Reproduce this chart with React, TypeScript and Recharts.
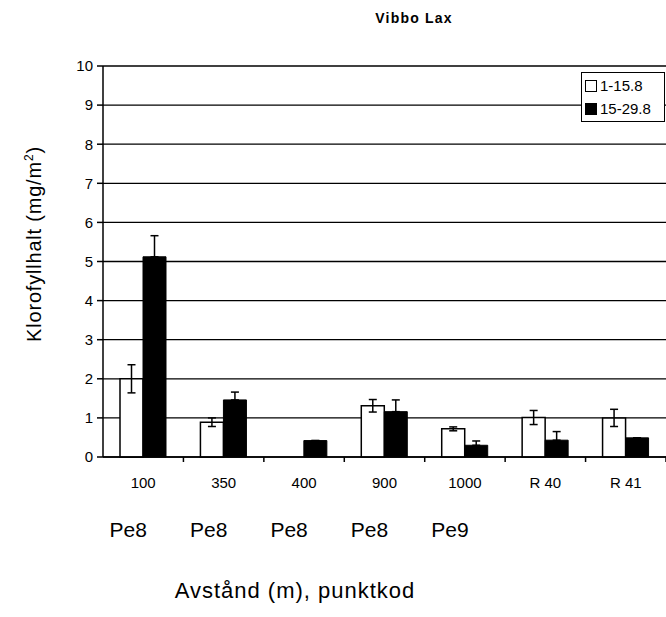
import { BarChart, Bar, XAxis, YAxis, CartesianGrid, ErrorBar } from "recharts";

const categories = ["100", "350", "400", "900", "1000", "R 40", "R 41"];
const codes = ["Pe8", "Pe8", "Pe8", "Pe8", "Pe9", "", ""];
const early = [2.0, 0.89, null, 1.31, 0.72, 1.01, 1.0];
const earlyErr = [0.36, 0.11, null, 0.16, 0.05, 0.18, 0.22];
const late = [5.12, 1.46, 0.42, 1.16, 0.3, 0.43, 0.49];
const lateErr = [0.54, 0.2, 0, 0.3, 0.11, 0.22, 0];
const yTicks = [0, 1, 2, 3, 4, 5, 6, 7, 8, 9, 10];
const seriesNames = ["1-15.8", "15-29.8"];
const seriesFills = ["#fff", "#000"];

const data = categories.map((c, i) => ({
  name: c,
  code: codes[i],
  early: early[i],
  earlyErr: earlyErr[i] == null ? null : [earlyErr[i], earlyErr[i]],
  late: late[i],
  lateErr: [0, lateErr[i]],
}));

const W = 666;
const H = 617;
const Y_W = 103;
const BAND = (W - Y_W) / categories.length;
const FONT = "'Liberation Sans', Arial, sans-serif";

// eslint-disable-next-line @typescript-eslint/no-explicit-any
function XTick({ x, y, payload, index }: any) {
  const code = codes[index];
  return (
    <g>
      <line x1={x + BAND / 2} x2={x + BAND / 2} y1={y} y2={y + 5} stroke="#000" strokeWidth={1.5} />
      <text x={x} y={y + 31} textAnchor="middle" fontSize={15} fill="#000" fontFamily={FONT}>
        {payload.value}
      </text>
      {code && (
        <text x={x - 15} y={y + 80} textAnchor="middle" fontSize={21} fill="#000" fontFamily={FONT}>
          {code}
        </text>
      )}
    </g>
  );
}

function LegendBox() {
  return (
    <div style={legendStyle}>
      {seriesNames.map((name, i) => (
        <div key={name} style={{ display: "flex", alignItems: "center", height: 23 }}>
          <span
            style={{
              display: "inline-block",
              width: 10,
              height: 10,
              border: "1.5px solid #000",
              background: seriesFills[i],
              marginRight: 3,
            }}
          />
          <span>{name}</span>
        </div>
      ))}
    </div>
  );
}

export default function App() {
  return (
    <div style={pageStyle}>
      <div style={titleStyle}>Vibbo Lax</div>
      <div style={yLabelStyle}>
        Klorofyllhalt (mg/m<sup style={{ fontSize: 12 }}>2</sup>)
      </div>
      <div style={xLabelStyle}>Avstånd (m), punktkod</div>
      <BarChart
        width={W}
        height={H}
        data={data}
        margin={{ top: 66, right: 0, bottom: 0, left: 0 }}
        barGap={0}
        barSize={23}
      >
        <CartesianGrid vertical={false} stroke="#000" strokeWidth={1.3} />
        <XAxis
          dataKey="name"
          height={160}
          tickSize={0}
          tickMargin={0}
          axisLine={{ stroke: "#000", strokeWidth: 1.5 }}
          tick={<XTick />}
          interval={0}
        />
        <YAxis
          width={Y_W}
          domain={[0, 10]}
          ticks={yTicks}
          interval={0}
          axisLine={{ stroke: "#000", strokeWidth: 1.5 }}
          tickLine={{ stroke: "#000", strokeWidth: 1.5 }}
          tickSize={6}
          tickMargin={4}
          tick={{ fontSize: 15, fill: "#000", fontFamily: FONT }}
        />
        <Bar
          dataKey="early"
          name={seriesNames[0]}
          fill={seriesFills[0]}
          stroke="#000"
          strokeWidth={1.5}
          isAnimationActive={false}
        >
          <ErrorBar dataKey="earlyErr" width={4} stroke="#000" strokeWidth={1.5} />
        </Bar>
        <Bar
          dataKey="late"
          name={seriesNames[1]}
          fill={seriesFills[1]}
          stroke="#000"
          isAnimationActive={false}
        >
          <ErrorBar dataKey="lateErr" width={4} stroke="#000" strokeWidth={1.5} />
        </Bar>
      </BarChart>
      <LegendBox />
    </div>
  );
}

const pageStyle: React.CSSProperties = {
  position: "absolute",
  top: 0,
  left: 0,
  width: W,
  height: H,
  background: "#fff",
  fontFamily: FONT,
  color: "#000",
};

const titleStyle: React.CSSProperties = {
  position: "absolute",
  top: 10,
  left: 314,
  width: 200,
  textAlign: "center",
  fontSize: 14,
  fontWeight: 700,
  letterSpacing: 1.2,
};

const yLabelStyle: React.CSSProperties = {
  position: "absolute",
  left: 34,
  top: 244,
  transform: "translate(-50%, -50%) rotate(-90deg)",
  whiteSpace: "nowrap",
  fontSize: 20,
  letterSpacing: 0.8,
};

const xLabelStyle: React.CSSProperties = {
  position: "absolute",
  top: 578,
  left: 145,
  width: 300,
  textAlign: "center",
  fontSize: 22,
  letterSpacing: 1,
  whiteSpace: "nowrap",
};

const legendStyle: React.CSSProperties = {
  position: "absolute",
  top: 72,
  left: 581,
  width: 84,
  border: "1.5px solid #000",
  background: "#fff",
  padding: "1px 3px",
  fontSize: 15,
  fontFamily: FONT,
  color: "#000",
  boxSizing: "border-box",
};
